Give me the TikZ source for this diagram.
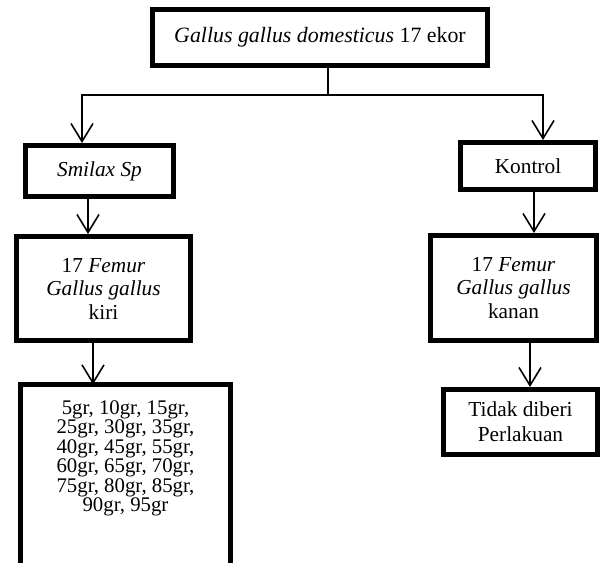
\documentclass[tikz,border=0pt]{standalone}
\usepackage{fontspec}
\setmainfont{Liberation Serif}
\usetikzlibrary{arrows.meta,positioning,calc}

\begin{document}
\begin{tikzpicture}[x=0.75pt,y=-0.75pt,
  box/.style={draw,line width=3.6pt,align=center,inner sep=0pt,font=\fontsize{16}{17.6}\selectfont},
  boxsize/.style 2 args={minimum width=#1*0.75pt,minimum height=#2*0.75pt},
  link/.style={line width=1.2pt},
  arr/.style={link,-{Straight Barb[length=13.5pt,width=16.5pt]}}]
\useasboundingbox (0,0) rectangle (601,562);
\clip (0,0) rectangle (601,562);
\node[box,boxsize={335.2}{56.2},font=\fontsize{16.4}{18}\selectfont] (chicken) at (320,37.5) {\textit{Gallus gallus domesticus} 17 ekor};
\node[box,boxsize={148.2}{51.2}] (smilax) at (99.5,171) {\textit{Smilax Sp}};
\node[box,boxsize={174.2}{104.2}] (femurL) at (103.5,288.5) {17 \textit{Femur}\\\textit{Gallus gallus}\\kiri};
\node[anchor=north,outer sep=0pt,inner xsep=0pt,inner ysep=12pt,align=center,
  font=\fontsize{15.6}{14.6}\selectfont,minimum width=210.2*0.75pt] (doses) at (125.5,384.4)
  {5gr, 10gr, 15gr,\\25gr, 30gr, 35gr,\\40gr, 45gr, 55gr,\\60gr, 65gr, 70gr,\\75gr, 80gr, 85gr,\\90gr, 95gr};
\draw[line width=3.6pt] ([yshift=-200pt]doses.north west) -- (doses.north west)
  -- (doses.north east) -- ([yshift=-200pt]doses.north east);
\node[box,boxsize={135.2}{47.2}] (kontrol) at (528,166) {Kontrol};
\node[box,boxsize={166.2}{105.2}] (femurR) at (513.5,288) {17 \textit{Femur}\\\textit{Gallus gallus}\\kanan};
\node[box,boxsize={154.2}{65.2},font=\fontsize{16}{18.8}\selectfont] (tidak) at (520.5,422) {Tidak diberi\\Perlakuan};

\draw[link] (328,0 |- chicken.south) -- (328,95) coordinate (split);
\draw[arr] (split) -| (82,0 |- smilax.north);
\draw[arr] (split) -| (543,0 |- kontrol.north);
\draw[arr] (88,0 |- smilax.south) -- (88,0 |- femurL.north);
\draw[arr] (93,0 |- femurL.south) -- (93,0 |- doses.north);
\draw[arr] (534,0 |- kontrol.south) -- (534,0 |- femurR.north);
\draw[arr] (530,0 |- femurR.south) -- (530,0 |- tidak.north);
\end{tikzpicture}
\end{document}
